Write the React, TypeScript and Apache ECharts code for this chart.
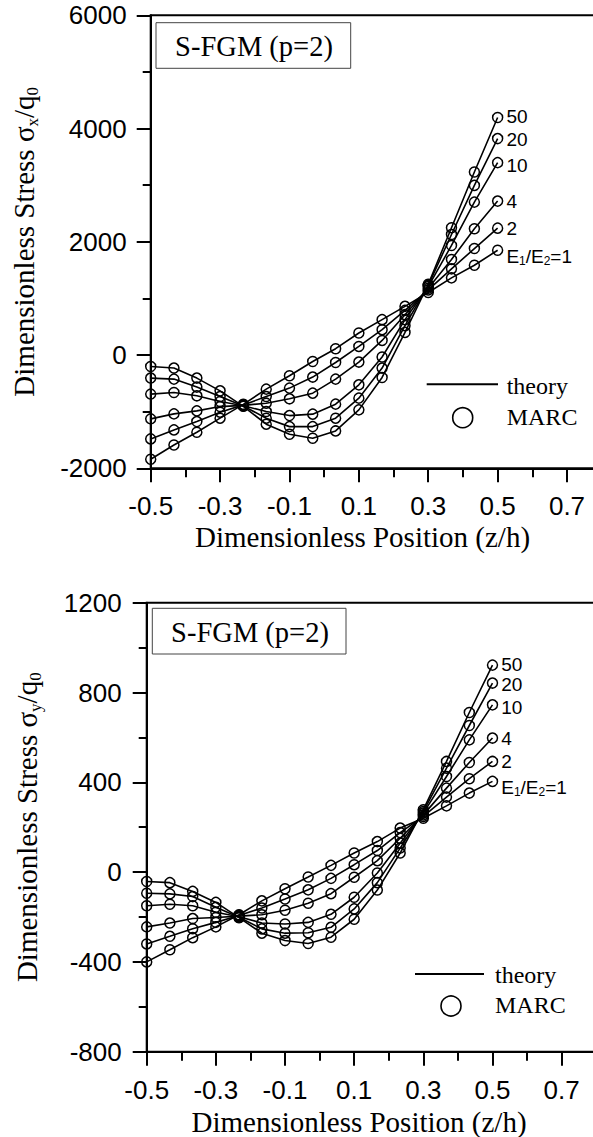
import React, { useEffect, useRef } from "react";
import * as echarts from "echarts";

// z/h positions of the computed points
const positions = [-0.5, -0.433, -0.367, -0.3, -0.233, -0.167, -0.1, -0.033, 0.033, 0.1, 0.167, 0.233, 0.3, 0.367, 0.433, 0.5];

// E1/E2 ratio labels (series order)
const ratioNames = ["E1/E2=1", "2", "4", "10", "20", "50"];

// sigma_x / q0
const sx_E1 = [-1841, -1588, -1363, -1115, -870, -602, -366, -113, 112, 389, 625, 860, 1105, 1363, 1586, 1851];
const sx_E2 = [-1481, -1322, -1175, -1009, -880, -733, -584, -389, -131, 152, 448, 789, 1150, 1522, 1881, 2241];
const sx_E4 = [-1127, -1039, -986, -910, -888, -850, -773, -673, -425, -124, 258, 713, 1180, 1687, 2230, 2719];
const sx_E10 = [-690, -662, -720, -821, -895, -998, -1069, -1044, -867, -526, -35, 625, 1210, 1935, 2701, 3398];
const sx_E20 = [-407, -425, -566, -733, -900, -1115, -1264, -1264, -1115, -761, -230, 519, 1230, 2129, 2996, 3823];
const sx_E50 = [-202, -230, -407, -632, -905, -1221, -1398, -1469, -1340, -968, -396, 400, 1250, 2248, 3232, 4195];

// sigma_y / q0
const sy_E1 = [-400, -346, -292, -244, -190, -128, -74, -22, 30, 85, 136, 196, 240, 295, 352, 404];
const sy_E2 = [-320, -286, -252, -224, -193, -160, -120, -79, -28, 33, 96, 176, 248, 334, 416, 493];
const sy_E4 = [-244, -227, -207, -202, -196, -190, -170, -139, -96, -23, 51, 151, 255, 374, 488, 597];
const sy_E10 = [-150, -143, -150, -179, -199, -227, -231, -224, -188, -112, -4, 129, 263, 426, 589, 745];
const sy_E20 = [-94, -97, -109, -157, -201, -253, -272, -270, -246, -164, -47, 107, 270, 463, 653, 842];
const sy_E50 = [-42, -47, -86, -135, -203, -272, -305, -318, -290, -210, -80, 85, 278, 493, 711, 922];

// axis ticks
const xTicks = { min: -0.5, max: 0.9, interval: 0.2 };
const yTicksX = { min: -2000, max: 6000, interval: 2000 };
const yTicksY = { min: -800, max: 1200, interval: 400 };

const SANS = "'Liberation Sans', Arial, sans-serif";
const SERIF = "'Liberation Serif', 'Times New Roman', serif";

const CHART_W = 700;
const CHART_H = 1137;

// vertical nudges of the end labels (style only)
const endLabelDy = [6, 0, 0, 3, 1, -1];

function endLabelText(name: string) {
  if (name === "E1/E2=1") return "{a|E}{s|1}{a|/E}{s|2}{a|=1}";
  return "{a|" + name + "}";
}

function buildSeries(gridIndex: number, sets: number[][]) {
  return sets.map((ys, si) => ({
    type: "line",
    name: ratioNames[si] + "-" + gridIndex,
    xAxisIndex: gridIndex,
    yAxisIndex: gridIndex,
    symbol: "circle",
    symbolSize: 10,
    showSymbol: true,
    smooth: false,
    lineStyle: { color: "#000", width: 1.6 },
    itemStyle: { color: "rgba(0,0,0,0)", borderColor: "#000", borderWidth: 1.5 },
    emphasis: { disabled: true },
    label: { show: false },
    data: positions.map((x, i) =>
      i === positions.length - 1
        ? {
            value: [x, ys[i]],
            label: {
              show: true,
              position: "right",
              distance: 3,
              offset: [0, endLabelDy[si]],
              formatter: endLabelText(ratioNames[si]),
              rich: {
                a: { fontFamily: SANS, fontSize: 19, color: "#000", lineHeight: 22 },
                s: { fontFamily: SANS, fontSize: 12, color: "#000", lineHeight: 12, verticalAlign: "bottom" },
              },
            },
          }
        : [x, ys[i]]
    ),
  }));
}

function xAxisCfg(gridIndex: number) {
  return {
    gridIndex,
    type: "value",
    min: xTicks.min,
    max: xTicks.max,
    interval: xTicks.interval,
    axisLine: { show: true, onZero: false, lineStyle: { color: "#000", width: 2 } },
    axisTick: { show: true, length: 14, lineStyle: { color: "#000", width: 2 } },
    minorTick: { show: true, splitNumber: 2, length: 9, lineStyle: { color: "#000", width: 2 } },
    splitLine: { show: false },
    axisLabel: {
      showMaxLabel: false,
      margin: 25,
      fontFamily: SANS,
      fontSize: 26,
      color: "#000",
      formatter: (v: number) => v.toFixed(1),
    },
  };
}

function yAxisCfg(gridIndex: number, t: { min: number; max: number; interval: number }, sub: string, gap: number, margin: number) {
  return {
    gridIndex,
    type: "value",
    min: t.min,
    max: t.max,
    interval: t.interval,
    axisLine: { show: true, onZero: false, lineStyle: { color: "#000", width: 2 } },
    axisTick: { show: true, length: 14, lineStyle: { color: "#000", width: 2 } },
    minorTick: { show: true, splitNumber: 2, length: 8, lineStyle: { color: "#000", width: 2 } },
    splitLine: { show: false },
    axisLabel: {
      margin,
      fontFamily: SANS,
      fontSize: 26,
      color: "#000",
      formatter: (v: number) => String(v),
    },
    name: "{n|Dimensionless Stress σ}{s|" + sub + "}{n|/q}{s|0}",
    nameLocation: "middle",
    nameRotate: 90,
    nameGap: gap,
    nameTextStyle: {
      color: "#000",
      fontFamily: SERIF,
      fontSize: 29,
      rich: {
        n: { fontFamily: SERIF, fontSize: 29, lineHeight: 34, color: "#000" },
        s: { fontFamily: SERIF, fontSize: 17, lineHeight: 18, color: "#000", verticalAlign: "bottom" },
      },
    },
  };
}

function panelGraphics(box: number[], boxText: number[], xTitle: number[], legLine: number[], legCircle: number[], legTextX: number, legTextY: number[]) {
  return [
    {
      type: "rect",
      shape: { x: box[0], y: box[1], width: box[2], height: box[3] },
      style: { fill: "#fff", stroke: "#444", lineWidth: 1 },
      z: 10,
    },
    {
      type: "text",
      x: boxText[0],
      y: boxText[1],
      style: { text: "S-FGM (p=2)", fontFamily: SERIF, fontSize: 28.5, fill: "#000", align: "center", verticalAlign: "middle" },
      z: 11,
    },
    {
      type: "text",
      x: xTitle[0],
      y: xTitle[1],
      style: { text: "Dimensionless Position (z/h)", fontFamily: SERIF, fontSize: 29, fill: "#000", align: "center", verticalAlign: "middle" },
      z: 11,
    },
    {
      type: "line",
      shape: { x1: legLine[0], y1: legLine[2], x2: legLine[1], y2: legLine[2] },
      style: { stroke: "#000", lineWidth: 2 },
      z: 11,
    },
    {
      type: "circle",
      shape: { cx: legCircle[0], cy: legCircle[1], r: 10 },
      style: { fill: "none", stroke: "#000", lineWidth: 1.6 },
      z: 11,
    },
    {
      type: "text",
      x: legTextX,
      y: legTextY[0],
      style: { text: "theory", fontFamily: SERIF, fontSize: 24, fill: "#000", align: "left", verticalAlign: "middle" },
      z: 11,
    },
    {
      type: "text",
      x: legTextX,
      y: legTextY[1],
      style: { text: "MARC", fontFamily: SERIF, fontSize: 24, fill: "#000", align: "left", verticalAlign: "middle" },
      z: 11,
    },
  ];
}

export default function App() {
  const ref = useRef<HTMLDivElement>(null);
  useEffect(() => {
    if (!ref.current) return;
    const chart = echarts.init(ref.current, undefined, { renderer: "svg" });
    const option = {
      animation: false,
      backgroundColor: "#fff",
      grid: [
        { left: 150.7, top: 15.3, right: CHART_W - 636.4, bottom: CHART_H - 468.3, show: true, borderColor: "#000", borderWidth: 2, backgroundColor: "rgba(0,0,0,0)" },
        { left: 146.7, top: 602.7, right: CHART_W - 630.8, bottom: CHART_H - 1051.7, show: true, borderColor: "#000", borderWidth: 2, backgroundColor: "rgba(0,0,0,0)" },
      ],
      xAxis: [xAxisCfg(0), xAxisCfg(1)],
      yAxis: [yAxisCfg(0, yTicksX, "x", 110, 24), yAxisCfg(1, yTicksY, "y", 103, 25)],
      series: [
        ...buildSeries(0, [sx_E1, sx_E2, sx_E4, sx_E10, sx_E20, sx_E50]),
        ...buildSeries(1, [sy_E1, sy_E2, sy_E4, sy_E10, sy_E20, sy_E50]),
      ],
      graphic: [
        ...panelGraphics([156, 22.7, 194.7, 45.6], [254, 46.5], [362.5, 537], [426.7, 498, 384.3], [462.7, 417.7], 506.7, [385.8, 416.8]),
        ...panelGraphics([152.3, 608.3, 193.7, 45.7], [250, 632], [359, 1122], [415, 484, 974], [451, 1006], 495, [974.5, 1005]),
      ],
    };
    chart.setOption(option as any);
    return () => chart.dispose();
  }, []);
  return (
    <div style={{ position: "absolute", left: 0, top: 0, width: 593, height: CHART_H, overflow: "hidden", background: "#fff" }}>
      <div ref={ref} style={{ width: CHART_W, height: CHART_H }} />
    </div>
  );
}
